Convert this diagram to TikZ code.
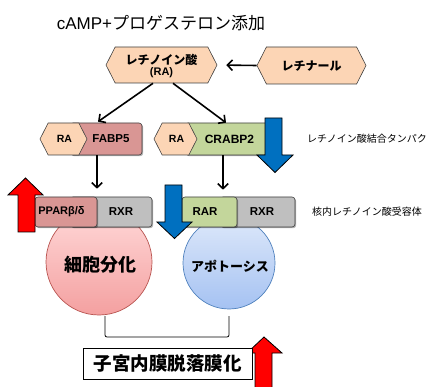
\documentclass[tikz,border=0pt]{standalone}
\usepackage{fontspec}
\setmainfont{Liberation Sans}
\newfontfamily\jp{Noto Sans CJK JP}
\usetikzlibrary{shapes.symbols,shadows,arrows.meta}
\definecolor{peach}{HTML}{FCD5B5}
\definecolor{rosebox}{HTML}{D99694}
\definecolor{olivebox}{HTML}{C3D69B}
\definecolor{graybox}{HTML}{BFBFBF}
\definecolor{bluearr}{HTML}{0070C0}
\definecolor{edgec}{HTML}{3F3F3F}
\definecolor{pinkT}{HTML}{FFD8D8}
\definecolor{pinkB}{HTML}{F4A0A0}
\definecolor{pinkE}{HTML}{B85450}
\definecolor{bluT}{HTML}{DDE8FA}
\definecolor{bluB}{HTML}{A5C2F2}
\definecolor{bluE}{HTML}{4F81BD}
\begin{document}
\begin{tikzpicture}[x=1pt,y=-1pt,
  hexa/.style={signal, signal to=east and west, signal pointer angle=126,
    draw=edgec, fill=peach, line width=0.6pt, inner sep=0pt, font=\bfseries},
  rbox/.style={rounded corners=3pt, draw=edgec, line width=0.6pt, inner sep=0pt,
    minimum height=31pt,
    drop shadow={shadow xshift=1.2pt,shadow yshift=-1.2pt,opacity=0.3,fill=black}},
  lbl/.style={inner sep=0pt, font=\bfseries\fontsize{11.5}{13}\selectfont},
  side/.style={inner sep=0pt, anchor=west, font=\jp\fontsize{10}{12}\selectfont},
  arr/.style={line width=1.6pt, -{Straight Barb[length=5pt,width=10.5pt]}},
  blk/.style={draw=black, line width=0.8pt, join=miter},
  cell/.style={circle, line width=0.7pt, inner sep=0pt}
]
\useasboundingbox (0,0) rectangle (428,387);

% title
\node[inner sep=0pt] (title) at (161,23)
  {\fontsize{17}{19}\selectfont cAMP+{\jp プロゲステロン添加}};

% circles (behind receptor boxes)
\node[cell, draw=pinkE, top color=pinkT, bottom color=pinkB, minimum size=106pt] (diff) at (99,262) {};
\node[cell, draw=bluE, top color=bluT, bottom color=bluB, minimum size=92pt] (apop) at (229,263) {};
\node[inner sep=0pt, font=\jp\bfseries\fontsize{18}{20}\selectfont] (diffT) at (100,265) {細胞分化};
\node[inner sep=0pt, font=\jp\bfseries\fontsize{13}{15}\selectfont] (apopT) at (230,266) {アポトーシス};

% top hexagons
\node[hexa, minimum width=111pt, minimum height=36pt] (ra) at (161.5,65) {};
\node[inner sep=0pt, align=center] (raT) at (161.5,66)
  {{\jp\bfseries\fontsize{12}{13}\selectfont レチノイン酸}\\[-1.5pt]{\bfseries\fontsize{11}{12}\selectfont (RA)}};
\node[hexa, minimum width=109pt, minimum height=37pt] (ret) at (311.5,65.5) {};
\node[inner sep=0pt, font=\jp\bfseries\fontsize{12}{14}\selectfont] (retT) at (311.5,66) {レチナール};

% binding proteins
\node[rbox, fill=rosebox, minimum width=72pt, minimum height=32pt] (fabp) at (106,139) {};
\node[hexa, minimum width=47pt, minimum height=32pt] (raA) at (63.5,139) {};
\node[lbl] (fabpT) at (111,139) {FABP5};
\node[inner sep=0pt, font=\bfseries\fontsize{10.5}{12}\selectfont] (raAT) at (64.5,139) {RA};

\node[rbox, fill=olivebox, minimum width=87pt, minimum height=32pt] (crabp) at (228.5,139) {};
\node[hexa, minimum width=43pt, minimum height=32pt] (raB) at (175.5,139) {};
\node[lbl, font=\bfseries\fontsize{12}{14}\selectfont] (crabpT) at (229.5,139) {CRABP2};
\node[inner sep=0pt, font=\bfseries\fontsize{10.5}{12}\selectfont] (raBT) at (176.5,139) {RA};

% receptors
\node[rbox, fill=graybox, minimum width=82pt, minimum height=30pt] (rxrA) at (111,212) {};
\node[rbox, fill=rosebox, minimum width=62pt, minimum height=30pt] (ppar) at (66,212) {};
\node[lbl] (rxrAT) at (121,212) {RXR};
\node[lbl, font=\bfseries\fontsize{11}{12}\selectfont] (pparT) at (61.5,212) {PPARβ/δ};

\node[rbox, fill=graybox, minimum width=75pt, minimum height=30pt] (rxrB) at (257.5,212) {};
\node[rbox, fill=olivebox, minimum width=55pt, minimum height=30pt] (rar) at (209.5,212) {};
\node[lbl] (rxrBT) at (262,212) {RXR};
\node[lbl] (rarT) at (205,212) {RAR};

% side labels
\node[side] (sideA) at (307,139) {レチノイン酸結合タンパク};
\node[side] (sideB) at (312,212) {核内レチノイン酸受容体};

% thin arrows
\draw[arr, shorten >=9pt] (ret.west) -- (ra.east);
\draw[arr] ([xshift=-8.5pt]ra.south) -- ([xshift=-8pt,yshift=1pt]fabp.north);
\draw[arr] ([xshift=11.5pt]ra.south) -- ([xshift=-2.5pt]crabp.north);
\draw[arr] ([xshift=-9pt]fabp.south) -- ([xshift=-14pt,yshift=8pt]rxrA.north);
\draw[arr] ([xshift=-5.5pt]crabp.south) -- ([xshift=13.5pt,yshift=7pt]rar.north);

% block arrows
\draw[blk, fill=red] (18,232) -- (18,195) -- (8,195) -- (25.5,178) -- (43,195) -- (35,195) -- (35,232) -- cycle;
\draw[blk, fill=bluearr] (265,118) -- (282,118) -- (282,155) -- (293,155) -- (275,172.5) -- (257,155) -- (265,155) -- cycle;
\draw[blk, fill=bluearr] (165,185) -- (182,185) -- (182,222) -- (192,222) -- (174.5,238.5) -- (157,222) -- (165,222) -- cycle;
\draw[blk, fill=red] (255,392) -- (255,353) -- (247,353) -- (264,337) -- (282,353) -- (272,353) -- (272,392) -- cycle;

% bracket
\coordinate (bl) at (105,316);
\coordinate (br) at (229,316);
\draw[line width=0.8pt, rounded corners=2pt] (bl) -- (105,337) -- (229,337) -- (br);

% outcome box
\node[draw=black, fill=white, line width=0.8pt, minimum width=169pt, minimum height=31pt, inner sep=0pt,
  font=\jp\bfseries\fontsize{18.5}{20}\selectfont] (decid) at (167.5,363.5) {子宮内膜脱落膜化};
\end{tikzpicture}
\end{document}
